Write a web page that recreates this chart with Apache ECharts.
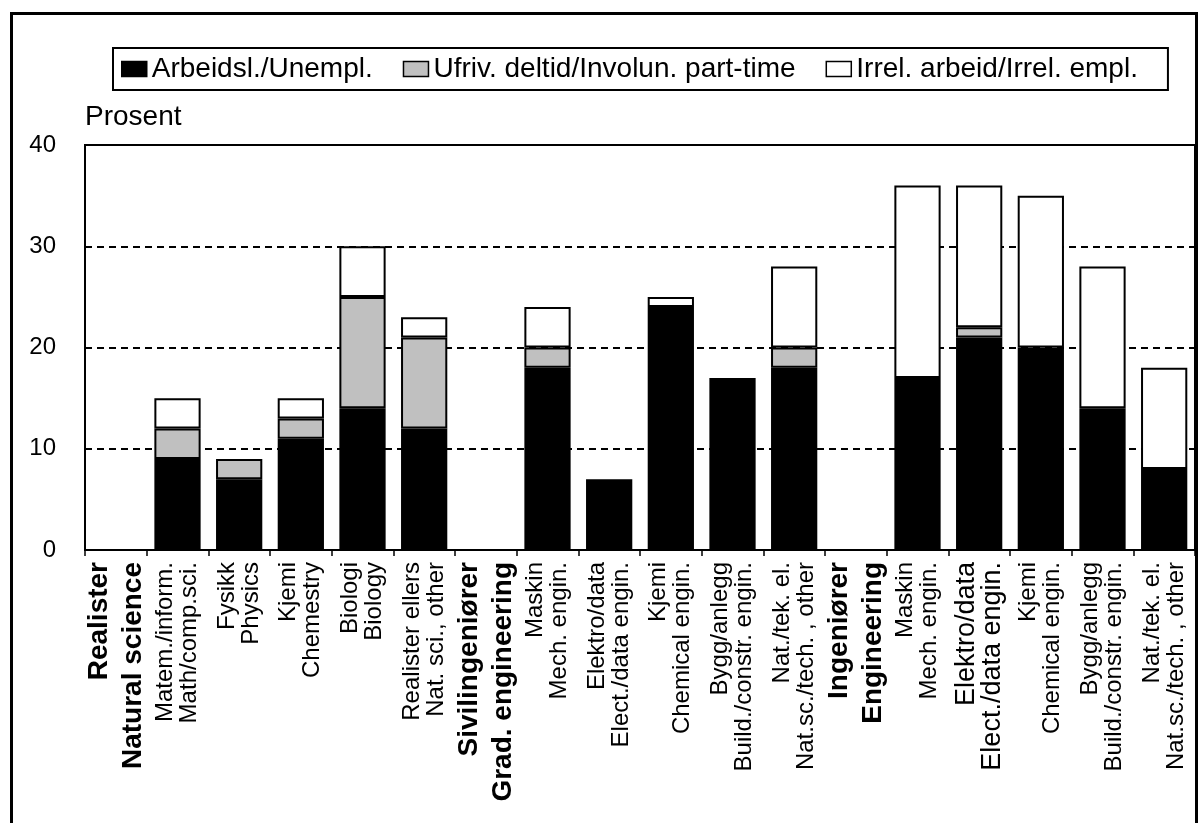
<!DOCTYPE html>
<html><head><meta charset="utf-8">
<script src="https://cdn.jsdelivr.net/npm/echarts@6/dist/echarts.min.js"></script>
<style>html,body{margin:0;padding:0;background:#fff}#c{width:1200px;height:823px}</style>
</head><body><div id="c"></div>
<script>
const labelsNo = ['Realister','Matem./inform.','Fysikk','Kjemi','Biologi','Realister ellers',
  'Sivilingeniører','Maskin','Elektro/data','Kjemi','Bygg/anlegg','Nat./tek. el.',
  'Ingeniører','Maskin','Elektro/data','Kjemi','Bygg/anlegg','Nat./tek. el.'];
const labelsEn = ['Natural science','Math/comp.sci.','Physics','Chemestry','Biology','Nat. sci., other',
  'Grad. engineering','Mech. engin.','Elect./data engin.','Chemical engin.','Build./constr. engin.','Nat.sc./tech. , other',
  'Engineering','Mech. engin.','Elect./data engin.','Chemical engin.','Build./constr. engin.','Nat.sc./tech. , other'];
const headerIdx = [0, 6, 12];
const largeIdx = [14];
const seriesNames = ['Arbeidsl./Unempl.','Ufriv. deltid/Involun. part-time','Irrel. arbeid/Irrel. empl.'];
const unemployed = [0, 9, 7, 11, 14, 12, 0, 18, 7, 24, 17, 18, 0, 17, 21, 20, 14, 8];
const partTime   = [0, 3, 2, 2, 11, 9, 0, 2, 0, 0, 0, 2, 0, 0, 1, 0, 0, 0];
const irrelevant = [0, 3, 0, 2, 5, 2, 0, 4, 0, 1, 0, 8, 0, 19, 14, 15, 14, 10];
const yTicks = [0, 10, 20, 30, 40];

const FONT = "'Liberation Sans', Arial, sans-serif";
const fills = ['#000000', '#c0c0c0', '#ffffff'];
const values = [unemployed, partTime, irrelevant];
const cats = labelsNo.map((n, i) => n + '\n' + labelsEn[i]);

const chart = echarts.init(document.getElementById('c'), null, {renderer: 'canvas'});
chart.setOption({
  animation: false,
  backgroundColor: '#fff',
  textStyle: {fontFamily: FONT, color: '#000'},
  graphic: [{
    type: 'rect', z: -10, silent: true,
    shape: {x: 11.5, y: 13.5, width: 1185, height: 900},
    style: {fill: 'none', stroke: '#000', lineWidth: 3}
  }],
  legend: {
    left: 113, top: 48,
    padding: [7, 30, 7, 8],
    borderColor: '#000', borderWidth: 2,
    icon: 'rect',
    itemWidth: 25, itemHeight: 15, itemGap: 30,
    textStyle: {fontFamily: FONT, fontSize: 28, color: '#000'},
    itemStyle: {borderColor: '#000', borderWidth: 1.5},
    data: seriesNames
  },
  grid: {left: 85, right: 5, top: 145, bottom: 273, show: true, borderColor: '#000', borderWidth: 2, containLabel: false},
  xAxis: {
    type: 'category',
    data: cats,
    axisLine: {lineStyle: {color: '#000', width: 2}},
    axisTick: {show: true, length: 6, lineStyle: {color: '#000', width: 1.5}},
    axisLabel: {
      interval: 0, rotate: 90, margin: 12,
      formatter: function (v, i) {
        let s = 'r';
        if (headerIdx.indexOf(i) >= 0) s = 'b';
        else if (largeIdx.indexOf(i) >= 0) s = 'm';
        return '{' + s + '|' + labelsNo[i] + '}\n{' + s + '|' + labelsEn[i] + '}';
      },
      rich: {
        r: {fontFamily: FONT, fontSize: 24, lineHeight: 24, color: '#000'},
        m: {fontFamily: FONT, fontSize: 27, lineHeight: 26, color: '#000'},
        b: {fontFamily: FONT, fontSize: 28, fontWeight: 'bold', lineHeight: 34, color: '#000'}
      }
    }
  },
  yAxis: {
    type: 'value', min: yTicks[0], max: yTicks[yTicks.length - 1], interval: 10,
    name: 'Prosent', nameLocation: 'end', nameGap: 14,
    nameTextStyle: {fontFamily: FONT, fontSize: 28, color: '#000', align: 'left'},
    axisLine: {show: true, lineStyle: {color: '#000', width: 2}},
    axisTick: {show: true, inside: true, length: 4, lineStyle: {color: '#000'}},
    axisLabel: {fontFamily: FONT, fontSize: 24, color: '#000', margin: 29},
    splitLine: {show: true, lineStyle: {color: '#000', width: 2, type: [7, 5]}}
  },
  series: seriesNames.map((name, k) => ({
    name: name,
    type: 'bar',
    stack: 'total',
    barWidth: '75%',
    itemStyle: {color: fills[k], borderColor: '#000', borderWidth: 2},
    data: values[k].map(v => (v === 0 ? null : v))
  }))
});
</script>
</body></html>
